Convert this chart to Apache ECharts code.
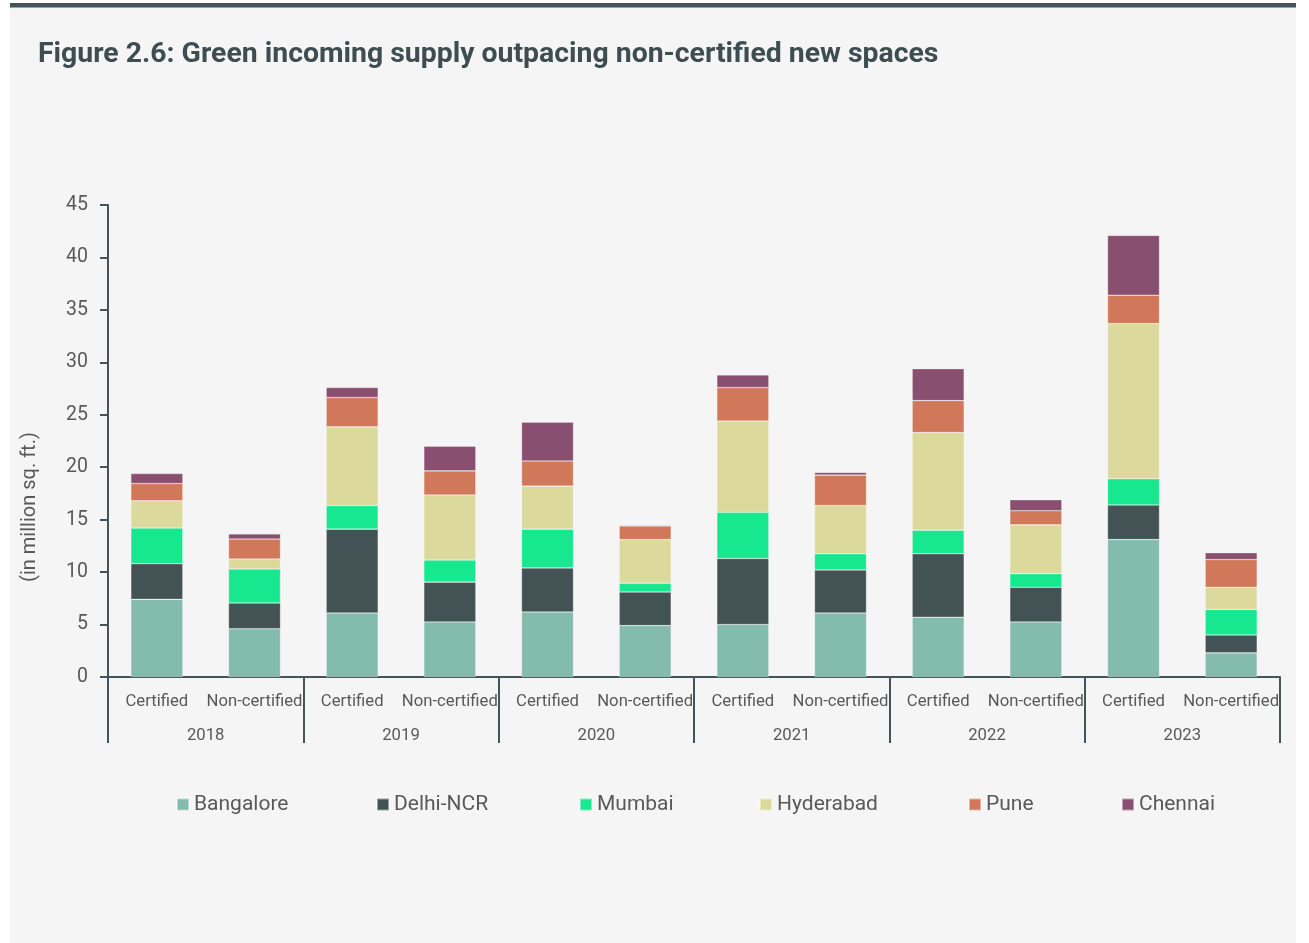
<!DOCTYPE html>
<html>
<head>
<meta charset="utf-8">
<script src="https://cdn.jsdelivr.net/npm/echarts@6/dist/echarts.min.js"></script>
<style>
  html, body { margin: 0; padding: 0; background: #ffffff; }
  #chart { width: 1309px; height: 943px; }
</style>
</head>
<body>
<div id="chart"></div>
<script>
// Categories: each year has a Certified and a Non-certified bar
const years = ['2018', '2019', '2020', '2021', '2022', '2023'];
const kinds = ['Certified', 'Non-certified'];
const barLabels = years.flatMap(() => kinds);

// New office supply by city (million sq. ft.), order: 2018 C, 2018 N, 2019 C, ...
const bangalore = [7.4, 4.6, 6.1, 5.25, 6.2, 4.9, 5.0, 6.1, 5.7, 5.25, 13.1, 2.3];
const delhiNcr  = [3.4, 2.45, 8.0, 3.8, 4.2, 3.2, 6.3, 4.1, 6.05, 3.3, 3.3, 1.7];
const mumbai    = [3.4, 3.25, 2.25, 2.1, 3.7, 0.85, 4.4, 1.55, 2.25, 1.3, 2.5, 2.45];
const hyderabad = [2.6, 0.95, 7.5, 6.2, 4.1, 4.15, 8.7, 4.6, 9.3, 4.65, 14.8, 2.1];
const pune      = [1.65, 1.9, 2.8, 2.3, 2.4, 1.3, 3.2, 2.9, 3.05, 1.35, 2.7, 2.65];
const chennai   = [0.95, 0.5, 0.95, 2.35, 3.7, 0.08, 1.2, 0.25, 3.05, 1.05, 5.7, 0.65];

const yTicks = { min: 0, max: 45, step: 5 };

const cities = [
  { name: 'Bangalore', data: bangalore, color: '#83bbad' },
  { name: 'Delhi-NCR', data: delhiNcr,  color: '#435255' },
  { name: 'Mumbai',    data: mumbai,    color: '#17e88f' },
  { name: 'Hyderabad', data: hyderabad, color: '#dbd99b' },
  { name: 'Pune',      data: pune,      color: '#d2785a' },
  { name: 'Chennai',   data: chennai,   color: '#884f70' }
];

const axisColor = '#43555a';
const textColor = '#595959';
const font = 'Roboto, "Noto Sans", sans-serif';

// Legend slots, one per city, spread along the bottom
const legendLeft = [176, 376, 579, 759, 968, 1121];

const chart = echarts.init(document.getElementById('chart'), null, { renderer: 'canvas' });

chart.setOption({
  backgroundColor: '#ffffff',
  textStyle: { fontFamily: font },
  animation: false,
  graphic: [
    { type: 'rect', z: -10, silent: true,
      shape: { x: 10, y: 7, width: 1286, height: 936 },
      style: { fill: '#f5f5f5' } },
    { type: 'rect', z: -9, silent: true,
      shape: { x: 10, y: 3, width: 1286, height: 4.5 },
      style: { fill: axisColor } },
    { type: 'text', silent: true,
      x: 30, y: 507, rotation: Math.PI / 2,
      style: { text: '(in million sq. ft.)', fill: textColor,
               font: '20px ' + font, textAlign: 'center', textVerticalAlign: 'middle' } }
  ],
  title: {
    text: 'Figure 2.6: Green incoming supply outpacing non-certified new spaces',
    left: 38, top: 41, padding: 0,
    textStyle: { fontFamily: font, fontSize: 28.4, fontWeight: 'bold', color: '#3e4d51' }
  },
  legend: cities.map((c, i) => ({
    data: [c.name],
    left: legendLeft[i], top: 794,
    padding: 0,
    icon: 'rect', itemWidth: 12, itemHeight: 12,
    textStyle: { fontFamily: font, fontSize: 21, color: textColor }
  })),
  grid: { left: 108, right: 29, top: 205, bottom: 266 },
  xAxis: [
    {
      type: 'category', data: barLabels,
      axisLine: { lineStyle: { color: axisColor, width: 2 } },
      axisTick: { show: false },
      axisLabel: { interval: 0, margin: 16, fontSize: 16.7, color: textColor, fontFamily: font }
    },
    {
      type: 'category', data: years, position: 'bottom',
      axisLine: { show: false },
      axisTick: { show: true, interval: 0, length: 66, lineStyle: { color: axisColor, width: 2 } },
      axisLabel: { interval: 0, margin: 50, fontSize: 16.7, color: textColor, fontFamily: font }
    }
  ],
  yAxis: {
    type: 'value', min: yTicks.min, max: yTicks.max, interval: yTicks.step,
    axisLine: { show: true, lineStyle: { color: axisColor, width: 2 } },
    axisTick: { show: true, length: 8, lineStyle: { color: axisColor, width: 2 } },
    axisLabel: { margin: 20, fontSize: 19.5, color: textColor, fontFamily: font },
    splitLine: { show: false }
  },
  series: cities.map(c => ({
    name: c.name, type: 'bar', stack: 'supply', xAxisIndex: 0,
    barWidth: 52, data: c.data,
    itemStyle: { color: c.color, borderColor: 'rgba(255,255,255,0.45)', borderWidth: 0.6 }
  }))
});
</script>
</body>
</html>
